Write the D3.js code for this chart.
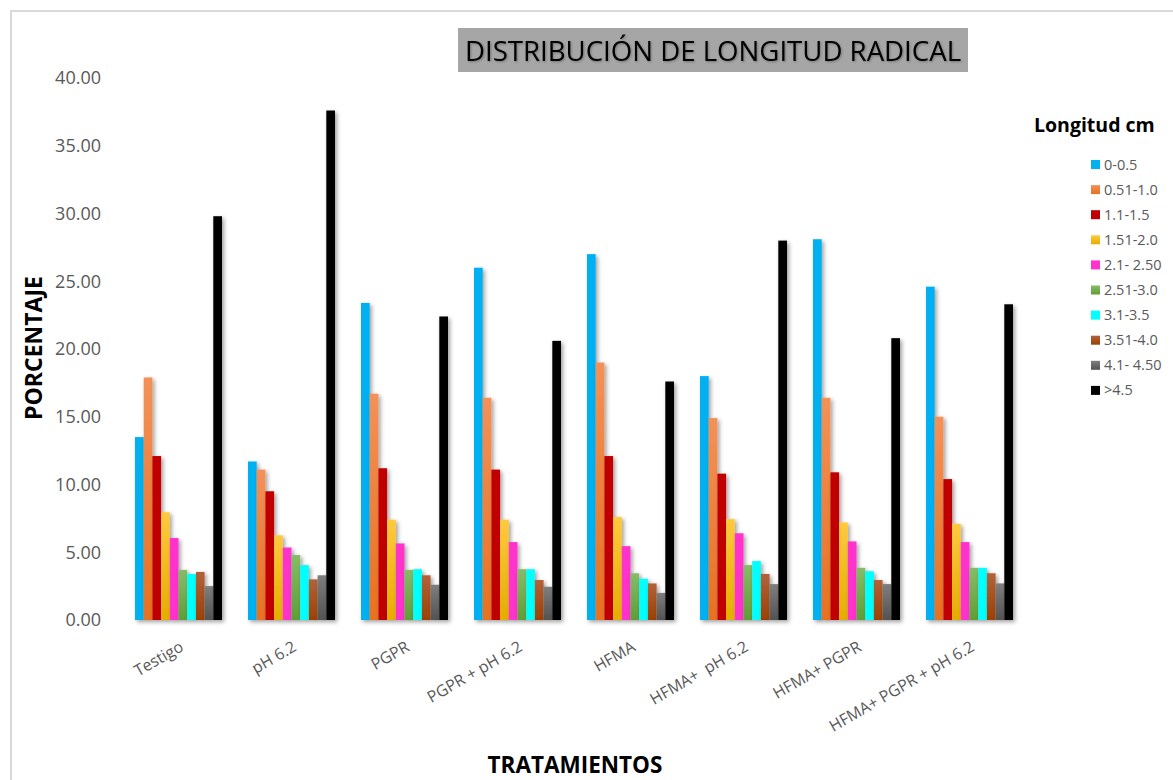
<!DOCTYPE html>
<html>
<head>
<meta charset="utf-8">
<script src="https://cdn.jsdelivr.net/npm/d3@7"></script>
<style>
  html, body { margin: 0; padding: 0; background: #fff; }
  svg { display: block; }
  text { font-family: "Open Sans", "Noto Sans", sans-serif; }
</style>
</head>
<body>
<svg id="chart" width="1173" height="780"></svg>
<script>
// Treatments along the x axis
const categories = ["Testigo", "pH 6.2", "PGPR", "PGPR + pH 6.2", "HFMA", "HFMA+  pH 6.2", "HFMA+ PGPR", "HFMA+ PGPR + pH 6.2"];

// Root length classes (legend)
const classes = ["0-0.5", "0.51-1.0", "1.1-1.5", "1.51-2.0", "2.1- 2.50", "2.51-3.0", "3.1-3.5", "3.51-4.0", "4.1- 4.50", ">4.5"];

// Percentage of roots per class, one array per length class (ordered as categories)
const s0_05   = [13.5, 11.7, 23.4, 26.0, 27.0, 18.0, 28.1, 24.6];
const s05_10  = [17.9, 11.1, 16.7, 16.4, 19.0, 14.9, 16.4, 15.0];
const s11_15  = [12.1,  9.5, 11.2, 11.1, 12.1, 10.8, 10.9, 10.4];
const s15_20  = [ 7.95, 6.25, 7.4,  7.4,  7.6,  7.45, 7.2,  7.1];
const s21_25  = [ 6.05, 5.35, 5.65, 5.75, 5.45, 6.4,  5.8,  5.75];
const s25_30  = [ 3.7,  4.8,  3.7,  3.75, 3.45, 4.05, 3.85, 3.85];
const s31_35  = [ 3.4,  4.05, 3.75, 3.75, 3.05, 4.35, 3.6,  3.85];
const s35_40  = [ 3.55, 3.0,  3.3,  2.95, 2.7,  3.4,  2.95, 3.45];
const s41_45  = [ 2.5,  3.3,  2.6,  2.45, 2.0,  2.65, 2.65, 2.7];
const s45     = [29.8, 37.6, 22.4, 20.6, 17.6, 28.0, 20.8, 23.3];

const yTicks = [0, 5, 10, 15, 20, 25, 30, 35, 40];

const seriesValues = [s0_05, s05_10, s11_15, s15_20, s21_25, s25_30, s31_35, s35_40, s41_45, s45];

// Bar fills: [top, bottom] of a vertical gradient (equal colours = flat fill)
const fills = [
  ["#00B0F0", "#00B0F0"],
  ["#F39159", "#E8711F"],
  ["#C00000", "#C00000"],
  ["#FFC93F", "#E5AD00"],
  ["#FF33CC", "#FF33CC"],
  ["#86BC69", "#5F9E36"],
  ["#00FFFF", "#00FFFF"],
  ["#B2623C", "#9C4103"],
  ["#7E7E7E", "#535353"],
  ["#000000", "#000000"]
];

const svg = d3.select("#chart");
const defs = svg.append("defs");

fills.forEach((c, i) => {
  const g = defs.append("linearGradient")
    .attr("id", "grad" + i)
    .attr("x1", 0).attr("y1", 0).attr("x2", 0).attr("y2", 1);
  g.append("stop").attr("offset", "0%").attr("stop-color", c[0]);
  g.append("stop").attr("offset", "100%").attr("stop-color", c[1]);
});

// Soft outer shadow for bars and the axis line
const sh = defs.append("filter").attr("id", "shadow")
  .attr("x", "-50%").attr("y", "-10%").attr("width", "250%").attr("height", "130%");
sh.append("feDropShadow")
  .attr("dx", 2).attr("dy", 2).attr("stdDeviation", 2.2)
  .attr("flood-color", "#000").attr("flood-opacity", 0.38);

const tsh = defs.append("filter").attr("id", "tshadow")
  .attr("x", "-10%").attr("y", "-20%").attr("width", "120%").attr("height", "140%");
tsh.append("feDropShadow")
  .attr("dx", 1).attr("dy", 1).attr("stdDeviation", 1)
  .attr("flood-color", "#000").attr("flood-opacity", 0.3);

// Outer chart frame
svg.append("path")
  .attr("d", "M11,780 L11,11 L1173,11")
  .attr("fill", "none")
  .attr("stroke", "#d9d9d9")
  .attr("stroke-width", 2);

// Scales
const x = d3.scaleBand()
  .domain(categories)
  .range([122, 1026])
  .paddingInner(0.23)
  .paddingOuter(0.115);

const xi = d3.scaleBand()
  .domain(d3.range(classes.length))
  .range([0, x.bandwidth()]);

const y = d3.scaleLinear().domain([0, 40]).range([620, 78]);

// Y tick labels
const yAxis = d3.axisLeft(y)
  .tickValues(yTicks)
  .tickFormat(d3.format(".2f"))
  .tickSize(0)
  .tickPadding(0);

const yg = svg.append("g")
  .attr("transform", "translate(101,0)")
  .call(yAxis);
yg.select(".domain").remove();
yg.selectAll("text")
  .attr("fill", "#595959")
  .attr("font-size", 18)
  .attr("font-family", "\"Open Sans\", sans-serif");

// Bars
const groups = svg.append("g").selectAll("g")
  .data(categories)
  .join("g")
  .attr("transform", d => `translate(${x(d)},0)`);

groups.selectAll("rect")
  .data((d, ci) => seriesValues.map((s, si) => ({ si, v: s[ci] })))
  .join("rect")
  .attr("x", d => xi(d.si))
  .attr("y", d => y(d.v))
  .attr("width", xi.bandwidth())
  .attr("height", d => y(0) - y(d.v))
  .attr("fill", d => `url(#grad${d.si})`)
  .attr("filter", "url(#shadow)");

// Category axis line
svg.append("line")
  .attr("x1", 121).attr("x2", 1030)
  .attr("y1", y(0)).attr("y2", y(0))
  .attr("stroke", "#8C8C8C")
  .attr("stroke-width", 2.5)
  .attr("filter", "url(#shadow)");

// Category labels, rotated
const xAxis = d3.axisBottom(x).tickSize(0).tickPadding(0);
const xg = svg.append("g")
  .attr("transform", `translate(0,${y(0)})`)
  .call(xAxis);
xg.select(".domain").remove();
xg.selectAll("text")
  .attr("fill", "#595959")
  .attr("font-size", 16)
  .attr("font-family", "\"Open Sans\", sans-serif")
  .attr("text-anchor", "end")
  .attr("dy", null)
  .attr("y", 0)
  .attr("transform", "translate(6,30) rotate(-30)")
  .style("white-space", "pre");

// Title box
svg.append("rect")
  .attr("x", 458).attr("y", 28)
  .attr("width", 510).attr("height", 44)
  .attr("fill", "#A6A6A6");
svg.append("text")
  .attr("x", 713).attr("y", 61)
  .attr("text-anchor", "middle")
  .attr("font-size", 27.6)
  .attr("fill", "#000")
  .attr("filter", "url(#tshadow)")
  .text("DISTRIBUCIÓN DE LONGITUD RADICAL");

// Axis titles
svg.append("text")
  .attr("transform", "translate(42,348) rotate(-90)")
  .attr("text-anchor", "middle")
  .attr("font-size", 23)
  .attr("font-weight", "bold")
  .attr("fill", "#000")
  .text("PORCENTAJE");

svg.append("text")
  .attr("x", 575).attr("y", 773)
  .attr("text-anchor", "middle")
  .attr("font-size", 22.5)
  .attr("font-weight", "bold")
  .attr("fill", "#000")
  .text("TRATAMIENTOS");

// Legend
svg.append("text")
  .attr("x", 1034).attr("y", 131.5)
  .attr("font-size", 19.5)
  .attr("font-weight", "bold")
  .attr("fill", "#000")
  .text("Longitud cm");

const legend = svg.append("g").selectAll("g")
  .data(classes)
  .join("g")
  .attr("transform", (d, i) => `translate(1091,${164.5 + i * 25.1})`);

legend.append("rect")
  .attr("x", 0).attr("y", -4.5)
  .attr("width", 9).attr("height", 9)
  .attr("fill", (d, i) => `url(#grad${i})`);

legend.append("text")
  .attr("x", 13).attr("y", 0)
  .attr("dy", "0.35em")
  .attr("font-size", 14.5)
  .attr("fill", "#595959")
  .style("white-space", "pre")
  .text(d => d);
</script>
</body>
</html>
